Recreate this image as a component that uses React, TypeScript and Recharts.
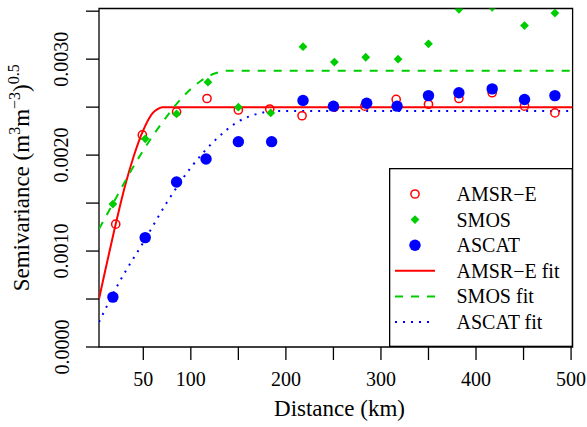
// Semivariogram of three soil-moisture products with fitted models (Recharts).
// Points; fit curves are read as a few knots each.

import { ComposedChart, Line, ReferenceArea, Scatter, XAxis, YAxis } from 'recharts'

const amsrKm = [21, 49, 85, 117, 150, 183, 217, 251, 283, 316, 350, 382, 417, 451, 483]
const amsrVal = [
  0.00128, 0.00221, 0.00245, 0.00259, 0.00247, 0.00248, 0.00241, 0.0025, 0.00251, 0.00258,
  0.00253, 0.00259, 0.00265, 0.00251, 0.00244,
]

const smosKm = [18, 52, 85, 118, 150, 184, 218, 251, 284, 318, 350, 382, 417, 451, 483]
const smosVal = [
  0.00149, 0.00217, 0.00243, 0.00276, 0.0025, 0.00244, 0.00313, 0.00297, 0.00302, 0.003,
  0.00316, 0.00352, 0.00354, 0.00335, 0.00348,
]

const ascatKm = [18, 52, 85, 116, 150, 185, 218, 250, 285, 317, 350, 382, 417, 451, 483]
const ascatVal = [
  0.00052, 0.00114, 0.00172, 0.00196, 0.00214, 0.00214, 0.00257, 0.00251, 0.00254, 0.00251,
  0.00262, 0.00265, 0.00269, 0.00258, 0.00262,
]

// fitted model curves (knots)
const amsrFitKm = [3.4, 10, 20, 30, 40, 50, 60, 65, 70, 501.6]
const amsrFitVal = [0.0005, 0.0008, 0.00124, 0.00165, 0.00199, 0.00226, 0.00244, 0.00248, 0.0025, 0.0025]

const smosFitKm = [3.4, 20, 35, 50, 70, 90, 110, 125, 140, 501.6]
const smosFitVal = [0.00123, 0.00153, 0.0018, 0.00205, 0.00234, 0.00259, 0.00277, 0.00285, 0.00288, 0.00288]

const ascatFitKm = [3.4, 25, 50, 75, 100, 125, 150, 170, 190, 501.6]
const ascatFitVal = [0.00026, 0.00068, 0.00109, 0.00151, 0.00187, 0.00215, 0.00235, 0.00243, 0.00246, 0.00246]

const xTicks = [50, 100, 150, 200, 250, 300, 350, 400, 450, 500]
const xLabelled = [50, 100, 200, 300, 400, 500]
const yTicks = [0, 0.0005, 0.001, 0.0015, 0.002, 0.0025, 0.003, 0.0035]
const yLabelled = [0, 0.001, 0.002, 0.003]

const X_DOMAIN: [number, number] = [3.4, 501.6]
const Y_DOMAIN: [number, number] = [0, 0.003528]

const FONT = '"Liberation Serif", "Times New Roman", serif'
const RED = '#ff0000'
const GREEN = '#00cd00'
const BLUE = '#0000ff'

const toPoints = (km: number[], v: number[]) => km.map((k, i) => ({ km: k, v: v[i] }))

const amsr = toPoints(amsrKm, amsrVal)
const smos = toPoints(smosKm, smosVal)
const ascat = toPoints(ascatKm, ascatVal)
const amsrFit = toPoints(amsrFitKm, amsrFitVal)
const smosFit = toPoints(smosFitKm, smosFitVal)
const ascatFit = toPoints(ascatFitKm, ascatFitVal)

function OpenCircle(props: any) {
  const { cx, cy } = props
  return <circle cx={cx} cy={cy} r={4.1} fill="none" stroke={RED} strokeWidth={1.5} />
}

function Diamond(props: any) {
  const { cx, cy } = props
  const s = 4.4
  return (
    <polygon
      points={`${cx},${cy - s} ${cx + s},${cy} ${cx},${cy + s} ${cx - s},${cy}`}
      fill={GREEN}
    />
  )
}

function BlueDot(props: any) {
  const { cx, cy } = props
  return <circle cx={cx} cy={cy} r={5.7} fill={BLUE} />
}

function YTick(props: any) {
  const { x, y, payload } = props
  if (!yLabelled.includes(payload.value)) return null
  return (
    <text
      x={x}
      y={y}
      transform={`rotate(-90 ${x} ${y})`}
      textAnchor="middle"
      fontSize={20}
      fontFamily={FONT}
      fill="#000"
    >
      {Number(payload.value).toFixed(4)}
    </text>
  )
}

function YTitle() {
  const x = 29.5
  const y = 177.8
  return (
    <text
      x={x}
      y={y}
      transform={`rotate(-90 ${x} ${y})`}
      textAnchor="middle"
      fontSize={23}
      fontFamily={FONT}
      fill="#000"
    >
      <tspan>Semivariance (m</tspan>
      <tspan dy={-9} fontSize={16}>3</tspan>
      <tspan dy={9}>m</tspan>
      <tspan dy={-9} fontSize={16}>−3</tspan>
      <tspan dy={9}>)</tspan>
      <tspan dy={-10} fontSize={16}>0.5</tspan>
    </text>
  )
}

function XTitle() {
  return (
    <text x={339.5} y={415.5} textAnchor="middle" fontSize={23} fontFamily={FONT} fill="#000">
      Distance (km)
    </text>
  )
}

const legendRows = [
  { label: 'AMSR−E', kind: 'circle' },
  { label: 'SMOS', kind: 'diamond' },
  { label: 'ASCAT', kind: 'dot' },
  { label: 'AMSR−E fit', kind: 'solid' },
  { label: 'SMOS fit', kind: 'dashed' },
  { label: 'ASCAT fit', kind: 'dotted' },
]

function LegendBox() {
  const rowY = (i: number) => 26 + i * 25.6
  return (
    <div style={{ position: 'absolute', left: 389, top: 168, width: 184, height: 179 }}>
      <svg width={184} height={179}>
        <rect x={0.65} y={0.65} width={182.7} height={177.7} fill="none" stroke="#000" strokeWidth={1.3} />
        {legendRows.map((r, i) => {
          const cy = rowY(i)
          let sym = null
          if (r.kind === 'circle') sym = <OpenCircle cx={26} cy={cy} />
          else if (r.kind === 'diamond') sym = <Diamond cx={26} cy={cy} />
          else if (r.kind === 'dot') sym = <BlueDot cx={26} cy={cy} />
          else if (r.kind === 'solid')
            sym = <line x1={6} x2={46} y1={cy} y2={cy} stroke={RED} strokeWidth={2} />
          else if (r.kind === 'dashed')
            sym = <line x1={6} x2={46} y1={cy} y2={cy} stroke={GREEN} strokeWidth={2} strokeDasharray="8 8" />
          else
            sym = <line x1={6} x2={46} y1={cy} y2={cy} stroke={BLUE} strokeWidth={2} strokeDasharray="2 6" />
          return (
            <g key={r.label}>
              {sym}
              <text x={67.5} y={cy + 7} fontSize={20} fontFamily={FONT} fill="#000">
                {r.label}
              </text>
            </g>
          )
        })}
      </svg>
    </div>
  )
}

export default function App() {
  return (
    <div style={{ position: 'absolute', left: 0, top: 0, width: 587, height: 427, background: '#fff' }}>
      <ComposedChart
        width={587}
        height={427}
        margin={{ top: 8.5, right: 14.4, bottom: 0, left: 0 }}
      >
        <XAxis
          type="number"
          dataKey="km"
          domain={X_DOMAIN}
          allowDataOverflow
          ticks={xTicks}
          interval={0}
          tickFormatter={(v: number) => (xLabelled.includes(v) ? String(v) : '')}
          tick={{ fill: '#000', fontSize: 20, fontFamily: FONT }}
          tickSize={13}
          tickMargin={12}
          tickLine={{ stroke: '#000', strokeWidth: 1.3 }}
          axisLine={false}
          stroke="#000"
          height={80}
          label={<XTitle />}
        />
        <YAxis
          type="number"
          dataKey="v"
          domain={Y_DOMAIN}
          allowDataOverflow
          ticks={yTicks}
          interval={0}
          tick={<YTick />}
          tickSize={13}
          tickMargin={17.5}
          tickLine={{ stroke: '#000', strokeWidth: 1.3 }}
          axisLine={false}
          stroke="#000"
          width={99}
          label={<YTitle />}
        />
        <ReferenceArea
          x1={X_DOMAIN[0]}
          x2={X_DOMAIN[1]}
          y1={Y_DOMAIN[0]}
          y2={Y_DOMAIN[1]}
          fill="none"
          stroke="#000"
          strokeWidth={1.3}
          ifOverflow="visible"
        />
        <Line
          data={amsrFit}
          dataKey="v"
          type="monotone"
          stroke={RED}
          strokeWidth={2}
          dot={false}
          activeDot={false}
          isAnimationActive={false}
        />
        <Line
          data={smosFit}
          dataKey="v"
          type="monotone"
          stroke={GREEN}
          strokeWidth={2}
          strokeDasharray="8 8"
          dot={false}
          activeDot={false}
          isAnimationActive={false}
        />
        <Line
          data={ascatFit}
          dataKey="v"
          type="monotone"
          stroke={BLUE}
          strokeWidth={2}
          strokeDasharray="2 6"
          dot={false}
          activeDot={false}
          isAnimationActive={false}
        />
        <Scatter data={amsr} dataKey="v" shape={<OpenCircle />} isAnimationActive={false} />
        <Scatter data={smos} dataKey="v" shape={<Diamond />} isAnimationActive={false} />
        <Scatter data={ascat} dataKey="v" shape={<BlueDot />} isAnimationActive={false} />
      </ComposedChart>
      <LegendBox />
    </div>
  )
}
